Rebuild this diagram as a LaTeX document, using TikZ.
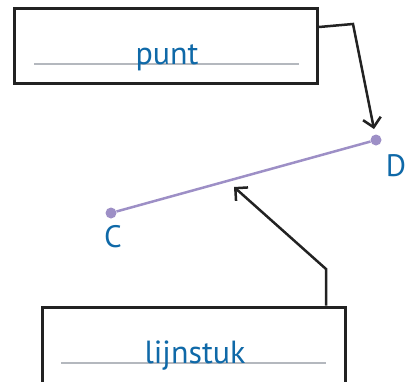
\documentclass[tikz,border=0pt]{standalone}
\usepackage{fontspec}
\setmainfont{PT Sans}
\usetikzlibrary{arrows.meta}
\definecolor{txtblue}{HTML}{0F69A8}
\definecolor{segpurple}{HTML}{9D8FC6}
\definecolor{rulegray}{HTML}{B4B8BE}
\definecolor{ink}{HTML}{222222}
\tikzset{
  box/.style={draw=ink, line width=3pt, fill=white, inner sep=0pt},
  word/.style={text=txtblue, font=\fontsize{32}{34}\selectfont, inner sep=0pt, anchor=base},
  ptlabel/.style={text=txtblue, font=\fontsize{31}{33}\selectfont, inner sep=0pt},
  guide/.style={draw=rulegray, line width=1.2pt},
  pointer/.style={draw=ink, line width=2.5pt, -{Straight Barb[length=9pt,width=18pt,line width=2.5pt]}},
  dot/.style={circle, fill=segpurple, inner sep=0pt, minimum size=11pt},
}
\begin{document}
\begin{tikzpicture}[x=1pt,y=-1pt]
\useasboundingbox (0,0) rectangle (405,381);
\clip (0,0) rectangle (405,381);
% boxes
\node[box, minimum width=303pt, minimum height=75pt] (puntbox) at (166,46) {};
\node[box, minimum width=303pt, minimum height=106pt] (lijnbox) at (193.5,360) {};
% guide lines
\coordinate (g1a) at (34,64); \coordinate (g1b) at (299,64);
\coordinate (g2a) at (61,363); \coordinate (g2b) at (326,363);
\draw[guide] (g1a) -- (g1b);
\draw[guide] (g2a) -- (g2b);
% words
\node[word] (punt) at (167,64) {punt};
\node[word] (lijnstuk) at (195,363) {lijnstuk};
% segment
\node[dot] (C) at (111,213) {};
\node[dot] (D) at (376,140) {};
\draw[segpurple, line width=2.5pt] (C) -- (D);
\node[ptlabel] (Clab) at (113,237) {C};
\node[ptlabel] (Dlab) at (396,166) {D};
% pointers
\coordinate (p1) at (353,24);
\coordinate (p1tip) at (374,129);
\draw[pointer] (puntbox.east |- 0,27) -- (p1) -- (p1tip);
\coordinate (p2) at (326,269);
\coordinate (p2tip) at (234,187);
\draw[pointer] (lijnbox.north -| 326,0) -- (p2) -- (p2tip);
\end{tikzpicture}
\end{document}
